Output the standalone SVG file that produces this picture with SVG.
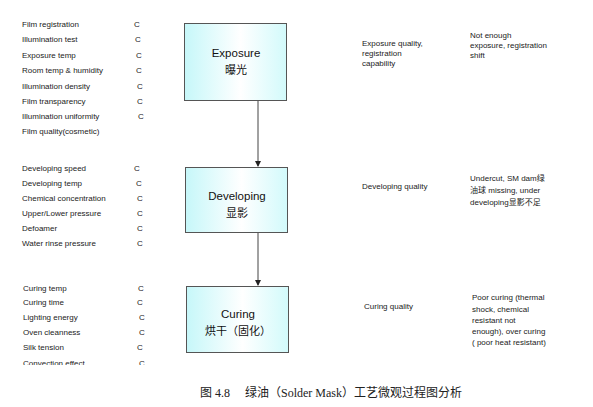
<svg xmlns="http://www.w3.org/2000/svg" width="593" height="407" viewBox="0 0 593 407">
<style>
.t{font-family:"Liberation Sans",Arial,"Noto Sans CJK SC",sans-serif;font-size:8px;fill:#222}
.b{font-family:"Liberation Sans",Arial,"Noto Sans CJK SC",sans-serif;font-size:11.5px;fill:#111;text-anchor:middle}
.box{fill:url(#g);stroke:#555;stroke-width:1}
.cap{font-family:"Liberation Serif","Times New Roman","Noto Sans CJK SC",serif;font-size:12px;fill:#222}
.ln{stroke:#444;stroke-width:1;fill:none}
</style>
<defs>
<linearGradient id="g" x1="0" y1="0" x2="1" y2="0">
<stop offset="0" stop-color="#c6f7f9"/>
<stop offset="0.55" stop-color="#ffffff"/>
<stop offset="1" stop-color="#d2fafb"/>
</linearGradient>
<marker id="ah" markerWidth="6" markerHeight="6" refX="5" refY="3" orient="auto" markerUnits="userSpaceOnUse">
<path d="M0,0 L6,3 L0,6 z" fill="#222"/>
</marker>
<clipPath id="clip"><rect x="0" y="0" width="593" height="365"/></clipPath>
</defs>
<rect width="593" height="407" fill="#fff"/>
<g id="params-exposure" class="t">
<text x="22" y="27">Film registration</text><text x="134" y="27">C</text>
<text x="22" y="42">Illumination test</text><text x="135" y="42">C</text>
<text x="22" y="58">Exposure temp</text><text x="136" y="58">C</text>
<text x="22" y="73">Room temp &amp; humidity</text><text x="136" y="73">C</text>
<text x="22" y="89">Illumination density</text><text x="137" y="89">C</text>
<text x="22" y="104">Film transparency</text><text x="137" y="104">C</text>
<text x="22" y="119">Illumination uniformity</text><text x="138" y="119">C</text>
<text x="22" y="134">Film quality(cosmetic)</text>
</g>
<g id="params-developing" class="t">
<text x="22" y="171">Developing speed</text><text x="134" y="171">C</text>
<text x="22" y="186">Developing temp</text><text x="136" y="186">C</text>
<text x="22" y="201">Chemical concentration</text><text x="137" y="201">C</text>
<text x="22" y="216">Upper/Lower pressure</text><text x="137" y="216">C</text>
<text x="22" y="231">Defoamer</text><text x="137" y="231">C</text>
<text x="22" y="246">Water rinse pressure</text><text x="137" y="246">C</text>
</g>
<g id="params-curing" class="t" clip-path="url(#clip)">
<text x="23" y="291">Curing temp</text><text x="138" y="291">C</text>
<text x="23" y="305">Curing time</text><text x="137" y="305">C</text>
<text x="23" y="320">Lighting energy</text><text x="139" y="320">C</text>
<text x="23" y="335">Oven cleanness</text><text x="139" y="335">C</text>
<text x="23" y="350">Silk tension</text><text x="137" y="350">C</text>
<text x="23" y="366">Convection effect</text><text x="139" y="366">C</text>
</g>
<g id="connectors">
<line class="ln" x1="258" y1="100" x2="258" y2="166" marker-end="url(#ah)"/>
<line class="ln" x1="258" y1="232" x2="258" y2="285" marker-end="url(#ah)"/>
</g>
<g id="node-exposure">
<rect class="box" x="184.5" y="23.5" width="102" height="77"/>
<text class="b" x="236" y="57">Exposure</text>
<text class="b" x="236" y="74" style="font-size:11px">曝光</text>
</g>
<g id="node-developing">
<rect class="box" x="185.5" y="167.5" width="102" height="65"/>
<text class="b" x="237" y="200">Developing</text>
<text class="b" x="237" y="217" style="font-size:11px">显影</text>
</g>
<g id="node-curing">
<rect class="box" x="186.5" y="286.5" width="102" height="66"/>
<text class="b" x="238" y="318">Curing</text>
<text class="b" x="238" y="335" style="font-size:11px">烘干（固化）</text>
</g>
<g id="quality" class="t">
<text x="362" y="46">Exposure quality,</text>
<text x="362" y="56">registration</text>
<text x="362" y="66">capability</text>
<text x="362" y="189">Developing quality</text>
<text x="364" y="309">Curing quality</text>
</g>
<g id="defects" class="t">
<text x="470" y="38">Not enough</text>
<text x="470" y="48">exposure, registration</text>
<text x="470" y="58">shift</text>
<text x="470" y="181">Undercut, SM dam绿</text>
<text x="470" y="193">油球 missing, under</text>
<text x="470" y="205">developing显影不足</text>
<text x="472" y="300">Poor curing (thermal</text>
<text x="472" y="312">shock, chemical</text>
<text x="472" y="323">resistant not</text>
<text x="472" y="334">enough), over curing</text>
<text x="472" y="345">( poor heat resistant)</text>
</g>
<text class="cap" x="200" y="397">图 4.8　 绿油（Solder Mask）工艺微观过程图分析</text>
</svg>
